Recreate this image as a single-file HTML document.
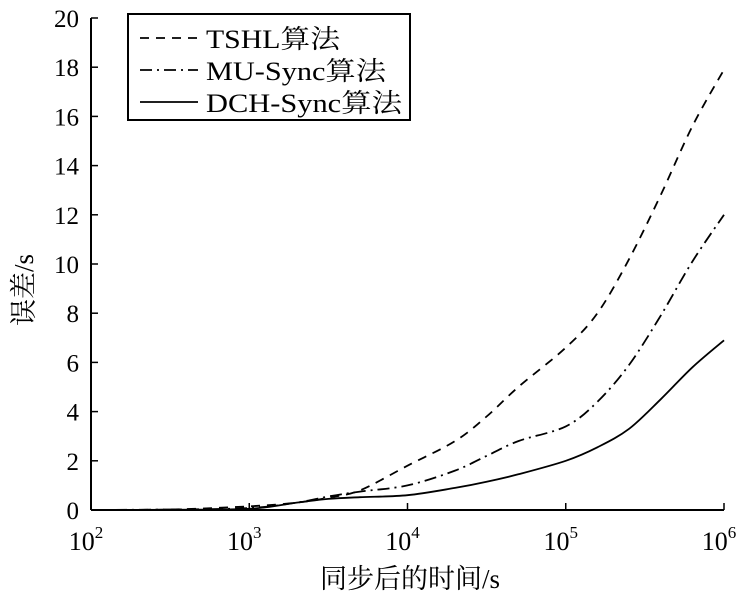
<!DOCTYPE html>
<html><head><meta charset="utf-8"><style>
body{margin:0;background:#fff}
svg{display:block;font-family:"Liberation Serif","Noto Serif CJK SC","Noto Sans CJK SC",serif}
</style></head><body>
<svg width="744" height="596">
<g id="axes"></g><g id="series"></g><g id="legend"></g>
</svg>
<script>
const xLogVals=[2,2.5,3,3.3,3.5,3.7,4,4.3,4.5,4.7,5,5.2,5.4,5.6,5.8,6];
const tshl=[0,0.02,0.15,0.3,0.5,0.8,1.8,2.8,3.8,5.0,6.6,8.0,10.2,12.8,15.6,17.9];
const mu=[0,0.02,0.08,0.3,0.55,0.75,1.0,1.6,2.2,2.8,3.4,4.4,5.9,7.9,10.1,12];
const dch=[0,0.01,0.05,0.3,0.45,0.52,0.6,0.9,1.15,1.45,2.0,2.55,3.3,4.5,5.8,6.9];
const yTicks=[0,2,4,6,8,10,12,14,16,18,20];
const xTicks=[2,3,4,5,6];
const X0=91,X1=724,Y0=510,Y1=18;
const sx=v=>X0+(v-2)/4*(X1-X0);
const sy=v=>Y0-v/20*(Y0-Y1);
const NS="http://www.w3.org/2000/svg";
function mk(t,a,p){const e=document.createElementNS(NS,t);for(const k in a)e.setAttribute(k,a[k]);p.appendChild(e);return e;}
const ax=document.getElementById('axes');
let l=mk('line',{x1:X0,y1:Y0,x2:X1,y2:Y0,stroke:'#000','stroke-width':2},ax);


l=mk('line',{x1:X0,y1:Y0,x2:X0,y2:Y1,stroke:'#000','stroke-width':2},ax);


yTicks.forEach(v=>{
 mk('line',{x1:X0,y1:sy(v),x2:X0+7,y2:sy(v),stroke:'#000','stroke-width':1.5},ax);
 const t=mk('text',{x:X0-12,y:sy(v)+9,'text-anchor':'end','font-size':25},ax);t.textContent=v;
 
 
});
xTicks.forEach(v=>{
 mk('line',{x1:sx(v),y1:Y0,x2:sx(v),y2:Y0-7,stroke:'#000','stroke-width':1.5},ax);
 const t=mk('text',{x:sx(v)-5,y:Y0+40,'text-anchor':'middle','font-size':26},ax);
 t.innerHTML='10<tspan dy="-12" font-size="17">'+v+'</tspan>';
 
 
});
let t=mk('text',{x:410,y:588,'text-anchor':'middle','font-size':27},ax);t.textContent='同步后的时间/s';


t=mk('text',{x:0,y:0,'text-anchor':'middle','font-size':27,transform:'translate(33,290) rotate(-90)'},ax);t.textContent='误差/s';


const sg=document.getElementById('series');
function path(vals){
 const p=xLogVals.map((x,i)=>[sx(x),sy(vals[i])]);
 let d='M'+p[0][0].toFixed(1)+','+p[0][1].toFixed(1);
 for(let i=0;i<p.length-1;i++){
  const a=p[Math.max(0,i-1)],b=p[i],c=p[i+1],e=p[Math.min(p.length-1,i+2)];
  const c1=[b[0]+(c[0]-a[0])/6,b[1]+(c[1]-a[1])/6],c2=[c[0]-(e[0]-b[0])/6,c[1]-(e[1]-b[1])/6];
  d+='C'+c1.map(n=>n.toFixed(1))+' '+c2.map(n=>n.toFixed(1))+' '+c.map(n=>n.toFixed(1));
 }
 return d;}
const ser=[[tshl,'9,7','tshl-line'],[mu,'12,5,2,5','mu-sync-line'],[dch,'none','dch-sync-line']];
ser.forEach(s=>{const p=mk('path',{d:path(s[0]),fill:'none',stroke:'#000','stroke-width':1.8,'stroke-dasharray':s[1]},sg);
 
 });
const lg=document.getElementById('legend');
const box=mk('rect',{x:128,y:14,width:282,height:106,fill:'#fff',stroke:'#000','stroke-width':2},lg);


const names=['TSHL算法','MU-Sync算法','DCH-Sync算法'];
names.forEach((n,i)=>{const y=44+i*32;
 mk('line',{x1:140,y1:y-6,x2:198,y2:y-6,stroke:'#000','stroke-width':1.8,'stroke-dasharray':ser[i][1]},lg);
 const tt=mk('text',{x:206,y:y+4,'font-size':26,textLength:196,lengthAdjust:'spacingAndGlyphs'},lg);tt.textContent=n;
 if(i===0)tt.setAttribute('textLength',134);
 if(i===1)tt.setAttribute('textLength',180);
 
 });
</script>
</body></html>
